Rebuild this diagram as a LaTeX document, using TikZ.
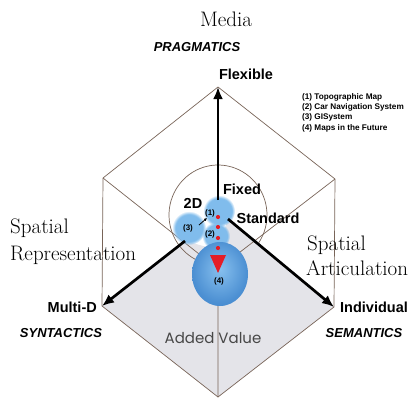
\documentclass[tikz,border=0pt]{standalone}
\usepackage{fontspec}
\setsansfont{Liberation Sans}
\newfontfamily\geofont{Poppins}
\usetikzlibrary{arrows.meta,fadings}
\definecolor{edgebrown}{RGB}{120,100,88}
\definecolor{floorgray}{RGB}{228,228,233}
\definecolor{ballblue}{RGB}{45,118,196}
\definecolor{balllight}{RGB}{135,192,238}
\definecolor{glowblue}{RGB}{128,188,236}
\definecolor{dotred}{RGB}{228,28,38}
\newcommand{\titlefont}{\fontsize{21}{27}\selectfont\rmfamily}
\newcommand{\axisfont}{\fontsize{14.5}{17}\selectfont\sffamily\bfseries}
\newcommand{\rolefont}{\fontsize{13}{15}\selectfont\sffamily\bfseries\itshape}
\newcommand{\keyfont}{\fontsize{8.2}{10.4}\selectfont\sffamily\bfseries}
\newcommand{\tagfont}{\fontsize{8}{9}\selectfont\sffamily\bfseries}
\pgfdeclareradialshading{bigball}{\pgfpoint{0bp}{4bp}}{color(0bp)=(balllight); color(24bp)=(ballblue!65!balllight); color(46bp)=(ballblue); color(50bp)=(ballblue!80!balllight)}

\begin{document}
\begin{tikzpicture}[x=1pt,y=-1pt,>=Latex,
  edge/.style={edgebrown,line width=0.7pt},
  axis/.style={line width=2.7pt,-{Latex[length=12pt,width=10pt]}},
  glow/.style={fill=glowblue,path fading=circle with fuzzy edge 20 percent}]
  \useasboundingbox (0,0) rectangle (420,399);
  % corners of the cube outline
  \coordinate (top) at (218,87);
  \coordinate (ul) at (103,178);
  \coordinate (ll) at (102,306);
  \coordinate (bot) at (218,397);
  \coordinate (lr) at (334,307);
  \coordinate (ur) at (335,179);
  \coordinate (ctr) at (218,269);
  % where the three axes start
  \coordinate (fstart) at (218,200);
  \coordinate (mstart) at (185,241);
  \coordinate (istart) at (228,219);
  % floor
  \fill[floorgray] (ll) -- (mstart) -- (218,250) -- (istart) -- (lr) -- (bot) -- cycle;
  \draw[edge] (top) -- (ul) -- (ll) -- (bot) -- (lr) -- (ur) -- cycle;
  \draw[edge] (ul) -- (ctr) -- (ur) (ctr) -- (bot);
  % dome
  \draw[edge,domain=117:394,samples=60,smooth,variable=\a]
    plot ({218+49*cos(\a)},{215+50*sin(\a)});
  % map types
  \fill[glow] (219,211) circle[radius=16];
  \fill[glow] (216,236) circle[radius=14];
  \fill[glow] (189,228) circle[radius=17];
  \shade[shading=bigball] (220,274) ellipse[x radius=28,y radius=32];
  % axes
  \draw[axis] (fstart) -- (top);
  \draw[axis] (mstart) -- (ll);
  \draw[axis] (istart) -- (lr);
  \coordinate (gfrom) at (199,225);
  \coordinate (gto) at (207,218);
  \draw[line width=0.8pt,-{Latex[length=3pt,width=3pt]}] (gfrom) -- (gto);
  \foreach \y in {217,227,238,248}
    \fill[dotred] (218,\y) circle[radius=2.1];
  \fill[dotred] (210,255) -- (226,255) -- (218,273) -- cycle;
  % labels
  \node[font=\titlefont] (media) at (226,19) {Media};
  \node[font=\rolefont] (prag) at (197,47) {PRAGMATICS};
  \node[font=\axisfont] (flex) at (246,74) {Flexible};
  \node[font=\keyfont,align=left,anchor=north west,inner sep=0] (key) at (302,93)
    {(1) Topographic Map\\(2) Car Navigation System\\(3) GISystem\\(4) Maps in the Future};
  \node[font=\titlefont,anchor=base west,inner sep=0] (rep1) at (10,233) {Spatial};
  \node[font=\titlefont,anchor=base west,inner sep=0] (rep2) at (10,260) {Representation};
  \node[font=\titlefont,anchor=base west,inner sep=0] (art1) at (307,250) {Spatial};
  \node[font=\titlefont,anchor=base west,inner sep=0] (art2) at (306,275) {Articulation};
  \node[font=\axisfont,anchor=east,inner sep=0] (multi) at (97,307) {Multi-D};
  \node[font=\axisfont,anchor=west,inner sep=0] (indiv) at (340,307) {Individual};
  \node[font=\rolefont] (synt) at (61,333) {SYNTACTICS};
  \node[font=\rolefont] (sem) at (364,333) {SEMANTICS};
  \node[font=\geofont\fontsize{15}{18}\selectfont,text=black!72] (added) at (213,338) {Added Value};
  \node[font=\axisfont] (fixed) at (242,189) {Fixed};
  \node[font=\axisfont] (std) at (268,218) {Standard};
  \node[font=\axisfont] (twod) at (193,203) {2D};
  \node[font=\tagfont,inner sep=0] (t1) at (210,213) {(1)};
  \node[font=\tagfont,inner sep=0] (t2) at (210,234) {(2)};
  \node[font=\tagfont,inner sep=0] (t3) at (188,228) {(3)};
  \node[font=\tagfont,inner sep=0] (t4) at (219,281) {(4)};
\end{tikzpicture}
\end{document}
